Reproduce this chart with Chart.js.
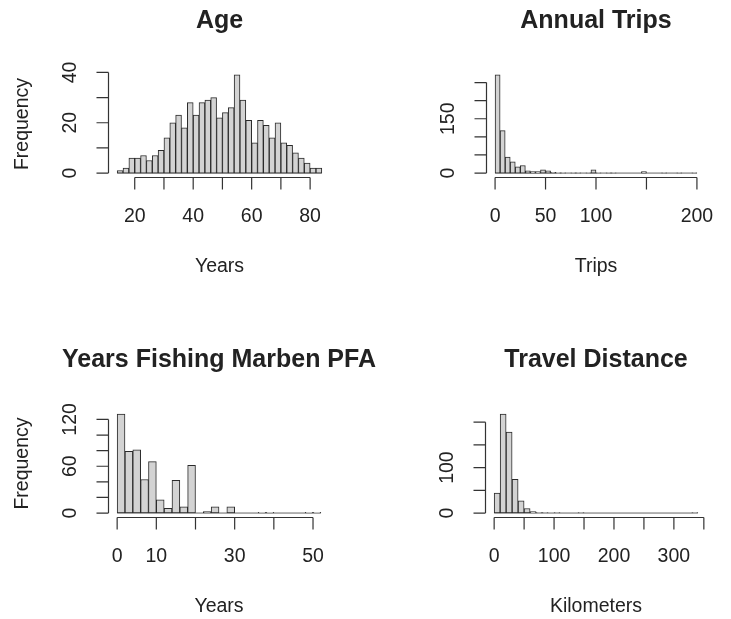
<!DOCTYPE html>
<html>
<head>
<meta charset="utf-8">
<script src="https://cdn.jsdelivr.net/npm/chart.js@4.4.1/dist/chart.umd.min.js"></script>
<style>
  html, body { margin: 0; padding: 0; background: #fff; }
  #wrap { position: relative; width: 731px; height: 619px; }
  #wrap canvas { position: absolute; left: 0; top: 0; }
</style>
</head>
<body>
<div id="wrap">
  <canvas id="age" width="731" height="619"></canvas>
  <canvas id="trips" width="731" height="619"></canvas>
  <canvas id="fishing" width="731" height="619"></canvas>
  <canvas id="distance" width="731" height="619"></canvas>
</div>
<script>
// Age, bins of 2 years from 14 to 84
const ageStart = 14, ageStep = 2;
const ageCounts = [1, 2, 6, 6, 7, 5, 7, 9, 14, 20, 23, 18, 28, 23, 28, 29, 30, 22, 24, 26,
                   39, 29, 21, 12, 21, 19, 14, 20, 12, 11, 8, 6, 4, 2, 2];
const ageXTicks = [20, 30, 40, 50, 60, 70, 80];
const ageXLabels = [20, 40, 60, 80];
const ageYTicks = [0, 10, 20, 30, 40];
const ageYLabels = [0, 20, 40];

// Annual trips, bins of 5 from 0 to 200
const tripStart = 0, tripStep = 5;
const tripCounts = [271, 117, 44, 31, 17, 21, 6, 4, 4, 9, 6, 2, 1, 1, 0, 1, 1, 0, 1, 9,
                    1, 0, 1, 1, 0, 0, 0, 0, 0, 4, 0, 0, 0, 1, 0, 0, 1, 0, 0, 1];
const tripXTicks = [0, 50, 100, 150, 200];
const tripXLabels = [0, 50, 100, 200];
const tripYTicks = [0, 50, 100, 150, 200, 250];
const tripYLabels = [0, 150];

// Years fishing Marben PFA, bins of 2 from 0 to 52
const fishStart = 0, fishStep = 2;
const fishCounts = [127, 79, 81, 43, 66, 17, 6, 42, 8, 61, 0, 2, 8, 0, 8, 0, 0, 0, 1, 1,
                    0, 0, 0, 0, 1, 1];
const fishXTicks = [0, 10, 20, 30, 40, 50];
const fishXLabels = [0, 10, 30, 50];
const fishYTicks = [0, 20, 40, 60, 80, 100, 120];
const fishYLabels = [0, 60, 120];

// Travel distance, bins of 10 km from 0 to 340
const distStart = 0, distStep = 10;
const distCounts = [44, 218, 178, 74, 27, 10, 3, 1, 1, 0, 1, 0, 0, 0, 1, 0, 0, 0, 0, 0,
                    0, 0, 0, 0, 0, 0, 0, 0, 0, 0, 0, 0, 0, 1];
const distXTicks = [0, 50, 100, 150, 200, 250, 300, 350];
const distXLabels = [0, 100, 200, 300];
const distYTicks = [0, 50, 100, 150, 200];
const distYLabels = [0, 100];

const FONT = '"Liberation Sans", Arial, Helvetica, sans-serif';

// base-graphics style axes: detached lines, outward ticks, rotated y labels
const rAxes = {
  id: 'rAxes',
  beforeDatasetsDraw(chart, args, o) {
    const { ctx, scales: { x, y } } = chart;
    ctx.save();
    ctx.strokeStyle = '#666';
    ctx.lineWidth = 1;
    ctx.beginPath();
    ctx.moveTo(x.getPixelForValue(o.lo), y.getPixelForValue(0));
    ctx.lineTo(x.getPixelForValue(o.hi), y.getPixelForValue(0));
    ctx.stroke();
    ctx.restore();
  },
  afterDraw(chart, args, o) {
    const { ctx, chartArea: a, scales: { x, y } } = chart;
    ctx.save();
    ctx.strokeStyle = '#333';
    ctx.fillStyle = '#222';
    ctx.lineWidth = 1.2;

    const by = a.bottom + 0.5;
    ctx.beginPath();
    ctx.moveTo(x.getPixelForValue(o.xTicks[0]), by);
    ctx.lineTo(x.getPixelForValue(o.xTicks[o.xTicks.length - 1]), by);
    o.xTicks.forEach(v => {
      const px = x.getPixelForValue(v);
      ctx.moveTo(px, by);
      ctx.lineTo(px, by + 12);
    });
    const bx = a.left - 0.5;
    ctx.moveTo(bx, y.getPixelForValue(o.yTicks[0]));
    ctx.lineTo(bx, y.getPixelForValue(o.yTicks[o.yTicks.length - 1]));
    o.yTicks.forEach(v => {
      const py = y.getPixelForValue(v);
      ctx.moveTo(bx, py);
      ctx.lineTo(bx - 12, py);
    });
    ctx.stroke();

    ctx.font = '19.5px ' + FONT;
    ctx.textAlign = 'center';
    ctx.textBaseline = 'middle';
    o.xLabels.forEach(v => ctx.fillText(String(v), x.getPixelForValue(v), a.bottom + 39.5));
    o.yLabels.forEach(v => {
      ctx.save();
      ctx.translate(a.left - 38, y.getPixelForValue(v));
      ctx.rotate(-Math.PI / 2);
      ctx.fillText(String(v), 0, 0);
      ctx.restore();
    });

    ctx.fillText(o.xTitle, (a.left + a.right) / 2, a.bottom + 90);
    if (o.yTitle) {
      ctx.save();
      ctx.translate(a.left - 86, (a.top + a.bottom) / 2);
      ctx.rotate(-Math.PI / 2);
      ctx.fillText(o.yTitle, 0, 0);
      ctx.restore();
    }

    ctx.font = 'bold 25px ' + FONT;
    ctx.fillText(o.title, (a.left + a.right) / 2, a.top - 50);
    ctx.restore();
  }
};

function histogram(id, title, xTitle, yTitle, start, step, counts, xTicks, xLabels, yTicks, yLabels, padding) {
  const lo = start, hi = start + step * counts.length;
  const top = Math.max(...counts);
  const xPad = (hi - lo) * 0.04, yPad = top * 0.04;
  const data = counts.map((c, i) => ({ x: start + step * (i + 0.5), y: c }));

  return new Chart(document.getElementById(id), {
    type: 'bar',
    data: {
      datasets: [{
        data: data,
        backgroundColor: '#d3d3d3',
        borderColor: '#2a2a2a',
        borderWidth: 1,
        borderSkipped: false,
        categoryPercentage: 1,
        barPercentage: 1
      }]
    },
    options: {
      responsive: false,
      animation: false,
      layout: { padding: padding },
      scales: {
        x: { type: 'linear', offset: false, min: lo - xPad, max: hi + xPad, display: false },
        y: { min: -yPad, max: top + yPad, display: false }
      },
      plugins: {
        legend: { display: false },
        tooltip: { enabled: false },
        rAxes: {
          title: title, xTitle: xTitle, yTitle: yTitle, lo: lo, hi: hi,
          xTicks: xTicks, xLabels: xLabels, yTicks: yTicks, yLabels: yLabels
        }
      }
    },
    plugins: [rAxes]
  });
}

histogram('age', 'Age', 'Years', 'Frequency', ageStart, ageStep, ageCounts,
  ageXTicks, ageXLabels, ageYTicks, ageYLabels,
  { left: 109, right: 401, top: 71, bottom: 442 });
histogram('trips', 'Annual Trips', 'Trips', '', tripStart, tripStep, tripCounts,
  tripXTicks, tripXLabels, tripYTicks, tripYLabels,
  { left: 487, right: 26, top: 71, bottom: 442 });
histogram('fishing', 'Years Fishing Marben PFA', 'Years', 'Frequency', fishStart, fishStep, fishCounts,
  fishXTicks, fishXLabels, fishYTicks, fishYLabels,
  { left: 109, right: 402, top: 410, bottom: 102 });
histogram('distance', 'Travel Distance', 'Kilometers', '', distStart, distStep, distCounts,
  distXTicks, distXLabels, distYTicks, distYLabels,
  { left: 486, right: 25, top: 410, bottom: 102 });
</script>
</body>
</html>
